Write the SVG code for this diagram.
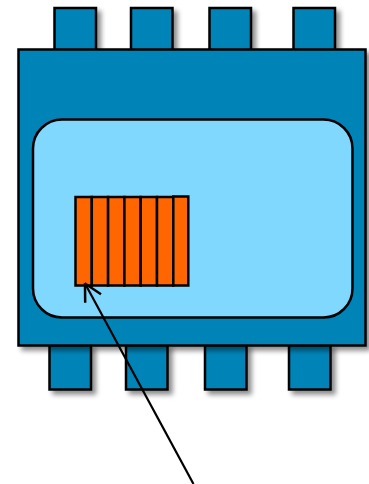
<svg xmlns="http://www.w3.org/2000/svg" width="369" height="484" viewBox="0 0 369 484">
  <defs>
    <filter id="shadow" x="-20%" y="-20%" width="150%" height="150%">
      <feGaussianBlur in="SourceAlpha" stdDeviation="2.5"/>
      <feOffset dx="4" dy="4" result="b"/>
      <feComponentTransfer><feFuncA type="linear" slope="0.45"/></feComponentTransfer>
      <feMerge><feMergeNode/><feMergeNode in="SourceGraphic"/></feMerge>
    </filter>
    <marker id="open-arrow" viewBox="0 0 20 20" refX="19" refY="10" markerWidth="20" markerHeight="20" markerUnits="userSpaceOnUse" orient="auto">
      <path d="M2,1 L19,10 L2,19" fill="none" stroke="#000" stroke-width="2.5"/>
    </marker>
  </defs>
  <style>
    .pin { fill: #0284B8; stroke: #000; stroke-width: 2.5; }
    .body { fill: #0284B8; stroke: #000; stroke-width: 2.5; }
    .die { fill: #80D8FF; stroke: #000; stroke-width: 2.5; }
    .cell { fill: #FF6600; stroke: #000; stroke-width: 2.5; }
    .lead { fill: none; stroke: #000; stroke-width: 2.2; }
  </style>

  <g id="top-pins" filter="url(#shadow)">
    <rect class="pin" x="54.5" y="8" width="41.5" height="42.5"/>
    <rect class="pin" x="131" y="8" width="41.5" height="42.5"/>
    <rect class="pin" x="209.5" y="8" width="41.5" height="42.5"/>
    <rect class="pin" x="293.5" y="8" width="41.5" height="42.5"/>
  </g>

  <g id="bottom-pins" filter="url(#shadow)">
    <rect class="pin" x="49.5" y="345" width="41.5" height="44.5"/>
    <rect class="pin" x="126" y="345" width="41.5" height="44.5"/>
    <rect class="pin" x="205" y="345" width="41.5" height="44.5"/>
    <rect class="pin" x="289" y="345" width="41.5" height="44.5"/>
  </g>

  <g id="package" filter="url(#shadow)">
    <rect class="body" x="18.5" y="49.5" width="347" height="296"/>
  </g>

  <g id="die">
    <rect class="die" x="33" y="119.5" width="319.5" height="198" rx="29" ry="29"/>
  </g>

  <g id="cell-array">
    <rect class="cell" x="75.5" y="197" width="16.3" height="88.5"/>
    <rect class="cell" x="91.8" y="197" width="16.3" height="88.5"/>
    <rect class="cell" x="108.1" y="197" width="16.3" height="88.5"/>
    <rect class="cell" x="124.4" y="197" width="16.3" height="88.5"/>
    <rect class="cell" x="140.7" y="197" width="16.3" height="88.5"/>
    <rect class="cell" x="157" y="197" width="16.3" height="88.5"/>
    <rect class="cell" x="173.3" y="196.5" width="15" height="89"/>
  </g>

  <g id="connectors">
    <line class="lead" x1="193.5" y1="484" x2="85" y2="283.5" marker-end="url(#open-arrow)"/>
  </g>
</svg>
